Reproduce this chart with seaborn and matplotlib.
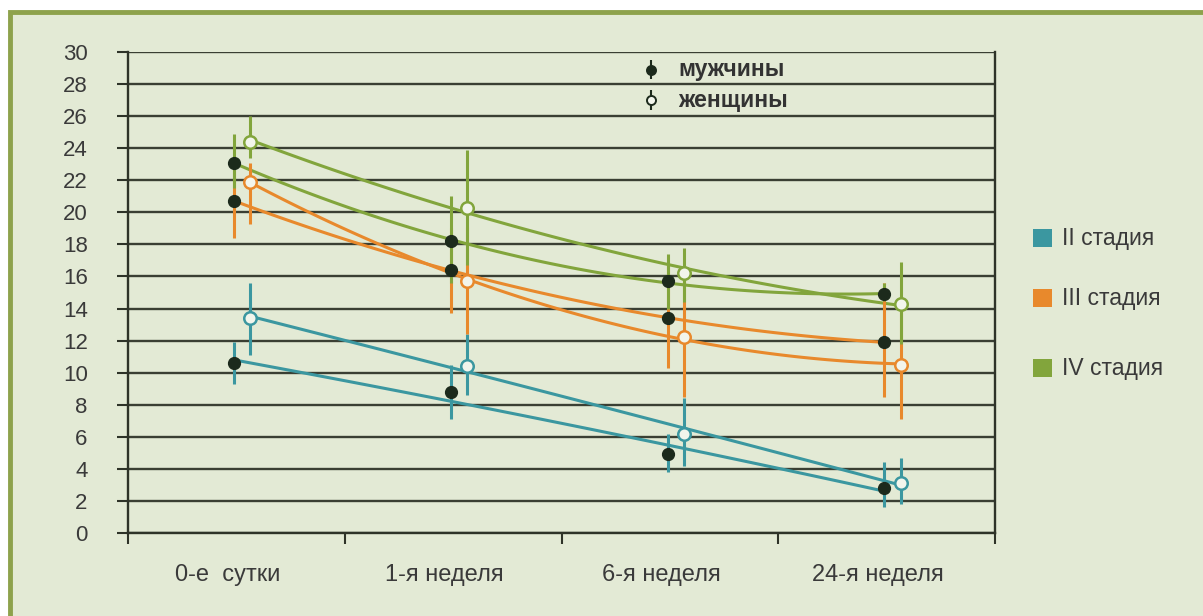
import numpy as np
import matplotlib
matplotlib.use('Agg')
import matplotlib.pyplot as plt
from matplotlib.patches import Rectangle
import seaborn as sns

periods = ['0-е  сутки', '1-я неделя', '6-я неделя', '24-я неделя']
stages = ['II стадия', 'III стадия', 'IV стадия']
stage_colors = ['#3b97a0', '#e8892c', '#82a53c']

# men: means and error-bar ends
men_ii = [10.6, 8.8, 4.9, 2.8]
men_ii_lo = [9.3, 7.1, 3.8, 1.6]
men_ii_hi = [11.9, 10.5, 6.2, 4.4]
men_iii = [20.7, 16.4, 13.4, 11.9]
men_iii_lo = [18.4, 13.7, 10.3, 8.5]
men_iii_hi = [22.9, 19.0, 16.7, 15.6]
men_iv = [23.1, 18.2, 15.7, 14.9]
men_iv_lo = [21.5, 15.6, 14.0, 14.5]
men_iv_hi = [24.9, 21.0, 17.4, 15.6]

# women: means and error-bar ends
women_ii = [13.4, 10.4, 6.2, 3.1]
women_ii_lo = [11.1, 8.6, 4.2, 1.8]
women_ii_hi = [15.6, 12.4, 8.4, 4.7]
women_iii = [21.9, 15.7, 12.2, 10.5]
women_iii_lo = [19.3, 12.4, 8.5, 7.1]
women_iii_hi = [23.1, 19.1, 15.9, 13.9]
women_iv = [24.4, 20.3, 16.2, 14.3]
women_iv_lo = [23.4, 16.7, 14.4, 11.8]
women_iv_hi = [26.0, 23.9, 17.8, 16.9]

men = [(men_ii, men_ii_lo, men_ii_hi), (men_iii, men_iii_lo, men_iii_hi), (men_iv, men_iv_lo, men_iv_hi)]
women = [(women_ii, women_ii_lo, women_ii_hi), (women_iii, women_iii_lo, women_iii_hi),
         (women_iv, women_iv_lo, women_iv_hi)]

sns.set_style('white')
plt.rcParams['font.family'] = ['Liberation Sans', 'DejaVu Sans']
text_color = '#3a3a3a'
bg = '#e3ead5'

fig = plt.figure(figsize=(12.03, 6.16), dpi=100, facecolor='white')
# slide frame
fig.patches.append(Rectangle((10 / 1203, -0.1), 1.2, 0.1 + 604 / 616, transform=fig.transFigure,
                             facecolor=bg, edgecolor='#8ea24c', lw=3.5, zorder=0))

ax = fig.add_axes([128 / 1203, 83 / 616, 867 / 1203, 481 / 616])
ax.set_facecolor('none')
ax.set_zorder(2)

base = np.arange(len(periods))
men_x = base - 0.01
women_x = base + 0.065

for (vals, lo, hi), c in zip(men, stage_colors):
    vals, lo, hi = np.array(vals), np.array(lo), np.array(hi)
    sns.regplot(x=men_x, y=vals, order=2, ci=None, scatter=False, truncate=True, color=c,
                line_kws={'lw': 2.2, 'zorder': 2}, ax=ax)
    ax.errorbar(men_x, vals, yerr=[vals - lo, hi - vals], fmt='none', ecolor=c, elinewidth=2.2,
                capsize=0, zorder=3)
    ax.plot(men_x, vals, 'o', ls='none', ms=8.5, mfc='#1c2a1c', mec='#1c2a1c', zorder=5)

for (vals, lo, hi), c in zip(women, stage_colors):
    vals, lo, hi = np.array(vals), np.array(lo), np.array(hi)
    sns.regplot(x=women_x, y=vals, order=2, ci=None, scatter=False, truncate=True, color=c,
                line_kws={'lw': 2.2, 'zorder': 2}, ax=ax)
    ax.errorbar(women_x, vals, yerr=[vals - lo, hi - vals], fmt='none', ecolor=c, elinewidth=2.2,
                capsize=0, zorder=3)
    ax.plot(women_x, vals, 'o', ls='none', ms=9, mfc='#f2f5ec', mec=c, mew=1.8, zorder=5)

ax.set_xlim(-0.5, 3.5)
ax.set_ylim(0, 30)
ax.set_yticks(np.arange(0, 31, 2))
ax.set_xticks(np.arange(-0.5, 3.6, 1.0))
ax.set_xticklabels([])
ax.set_xticks(base - 0.04, minor=True)
ax.set_xticklabels(periods, minor=True)
ax.yaxis.grid(True, color='#3a3f33', lw=1.7)
ax.set_axisbelow(True)
for side in ['left', 'bottom', 'right']:
    ax.spines[side].set_visible(True)
    ax.spines[side].set_color('#2e3328')
    ax.spines[side].set_linewidth(1.7)
ax.spines['top'].set_visible(False)
ax.tick_params(axis='y', which='major', direction='out', length=8, width=1.5, color='#2e3328',
               left=True, pad=21, labelsize=16, labelcolor=text_color)
ax.tick_params(axis='x', which='major', direction='out', length=8, width=1.5, color='#2e3328',
               bottom=True)
ax.tick_params(axis='x', which='minor', length=0, pad=22, labelsize=17, labelcolor=text_color)
ax.set_xlabel('')
ax.set_ylabel('')

# sex legend inside the plot
for yy, face, lab in [(0.963, '#1c2a1c', 'мужчины'), (0.900, '#f2f5ec', 'женщины')]:
    ax.errorbar([0.603], [yy], yerr=0.02, fmt='o', ms=6.5, mfc=face, mec='#1c2a1c', mew=1.4,
                ecolor='#1c2a1c', elinewidth=1.5, capsize=0, transform=ax.transAxes, zorder=6)
    ax.text(0.635, yy, lab, transform=ax.transAxes, ha='left', va='center', fontsize=16.5,
            fontweight='bold', color='#333333', zorder=6)

# stage legend at the right
for yc, c, lab in zip([238, 298, 368], stage_colors, stages):
    fig.patches.append(Rectangle((1033 / 1203, (616 - yc - 9) / 616), 19 / 1203, 18 / 616,
                                 transform=fig.transFigure, facecolor=c, edgecolor='none', zorder=3))
    fig.text(1062 / 1203, (616 - yc) / 616, lab, ha='left', va='center', fontsize=16.5,
             color=text_color)

fig.savefig('out.png', dpi=100, facecolor='white')
